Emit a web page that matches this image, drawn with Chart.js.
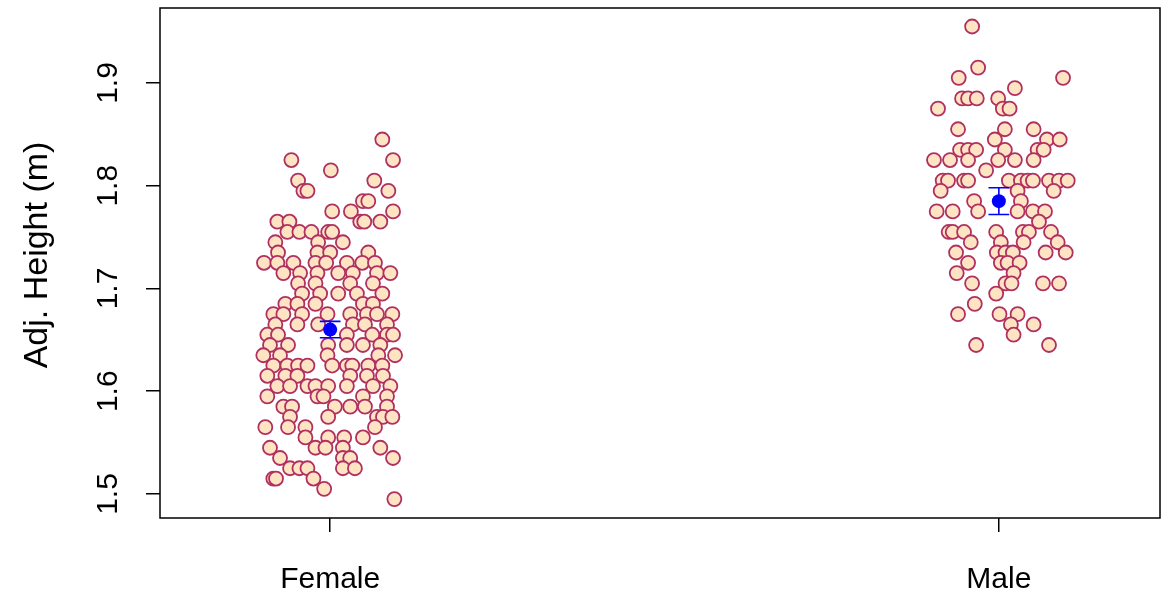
<!DOCTYPE html>
<html>
<head>
<meta charset="utf-8">
<script src="https://cdn.jsdelivr.net/npm/chart.js@4.4.1/dist/chart.umd.min.js"></script>
<style>
  html, body { margin: 0; padding: 0; background: #fff; }
  #wrap { width: 1161px; height: 590px; }
</style>
</head>
<body>
<div id="wrap"><canvas id="heightChart"></canvas></div>
<script>
// categories and ticks
const categories = ['Female', 'Male'];
const yTicks = [1.5, 1.6, 1.7, 1.8, 1.9];

// Female: adjusted heights (m) and their horizontal jitter
const femaleHeights = [
  1.845, 1.825, 1.825, 1.815, 1.805, 1.805,
  1.795, 1.795, 1.795, 1.785, 1.785, 1.775, 1.775, 1.775,
  1.765, 1.765, 1.765, 1.765, 1.765,
  1.755, 1.755, 1.755, 1.755, 1.755,
  1.745, 1.745, 1.745, 1.735, 1.735, 1.735, 1.735,
  1.725, 1.725, 1.725, 1.725, 1.725, 1.725, 1.725, 1.725,
  1.715, 1.715, 1.715, 1.715, 1.715, 1.715, 1.715,
  1.705, 1.705, 1.705, 1.705,
  1.695, 1.695, 1.695, 1.695, 1.695,
  1.685, 1.685, 1.685, 1.685, 1.685,
  1.675, 1.675, 1.675, 1.675, 1.675, 1.675, 1.675, 1.675,
  1.665, 1.665, 1.665, 1.665, 1.665, 1.665,
  1.655, 1.655, 1.655, 1.655, 1.655, 1.655,
  1.645, 1.645, 1.645, 1.645, 1.645, 1.645,
  1.635, 1.635, 1.635, 1.635, 1.635,
  1.625, 1.625, 1.625, 1.625, 1.625, 1.625, 1.625, 1.625, 1.625,
  1.615, 1.615, 1.615, 1.615, 1.615, 1.615,
  1.605, 1.605, 1.605, 1.605, 1.605, 1.605, 1.605, 1.605,
  1.595, 1.595, 1.595, 1.595, 1.595,
  1.585, 1.585, 1.585, 1.585, 1.585, 1.585,
  1.575, 1.575, 1.575, 1.575, 1.575,
  1.565, 1.565, 1.565, 1.565,
  1.555, 1.555, 1.555, 1.555,
  1.545, 1.545, 1.545, 1.545, 1.545,
  1.535, 1.535, 1.535, 1.535,
  1.525, 1.525, 1.525, 1.525, 1.525,
  1.515, 1.515, 1.515, 1.505, 1.495
];
const femaleJitter = [
  0.078, -0.058, 0.094, 0.001, -0.048, 0.066,
  -0.040, -0.034, 0.087, 0.049, 0.057, 0.003, 0.031, 0.094,
  -0.079, -0.061, 0.045, 0.051, 0.075,
  -0.064, -0.046, -0.028, -0.003, 0.003,
  -0.082, -0.018, 0.019, -0.078, -0.019, 0.000, 0.057,
  -0.099, -0.079, -0.055, -0.022, -0.006, 0.025, 0.048, 0.067,
  -0.070, -0.045, -0.019, 0.012, 0.034, 0.070, 0.090,
  -0.048, -0.022, 0.030, 0.064,
  -0.042, -0.015, 0.012, 0.040, 0.078,
  -0.067, -0.049, -0.022, 0.049, 0.064,
  -0.085, -0.070, -0.042, -0.004, 0.030, 0.055, 0.070, 0.093,
  -0.082, -0.049, -0.018, 0.034, 0.052, 0.085,
  -0.094, -0.078, 0.025, 0.063, 0.085, 0.094,
  -0.090, -0.063, -0.003, 0.025, 0.049, 0.075,
  -0.100, -0.075, -0.004, 0.072, 0.097,
  -0.085, -0.064, -0.048, -0.034, 0.003, 0.025, 0.033, 0.057, 0.078,
  -0.094, -0.067, -0.049, 0.030, 0.055, 0.079,
  -0.079, -0.060, -0.034, -0.022, -0.003, 0.025, 0.064, 0.090,
  -0.094, -0.019, -0.010, 0.049, 0.085,
  -0.070, -0.057, 0.007, 0.030, 0.052, 0.085,
  -0.060, -0.003, 0.070, 0.079, 0.093,
  -0.097, -0.063, -0.037, 0.067,
  -0.037, -0.003, 0.021, 0.049,
  -0.090, -0.022, -0.007, 0.019, 0.075,
  -0.075, 0.019, 0.030, 0.094,
  -0.060, -0.046, -0.034, 0.019, 0.037,
  -0.085, -0.081, -0.025, -0.009, 0.096
];

// Male: adjusted heights (m) and their horizontal jitter
const maleHeights = [
  1.955, 1.915, 1.905, 1.905, 1.895,
  1.885, 1.885, 1.885, 1.885, 1.875, 1.875, 1.875,
  1.855, 1.855, 1.855, 1.845, 1.845, 1.845,
  1.835, 1.835, 1.835, 1.835, 1.835, 1.835,
  1.825, 1.825, 1.825, 1.825, 1.825, 1.825, 1.815,
  1.805, 1.805, 1.805, 1.805, 1.805, 1.805, 1.805, 1.805, 1.805, 1.805, 1.805,
  1.795, 1.795, 1.795, 1.785, 1.785,
  1.775, 1.775, 1.775, 1.775, 1.775, 1.775, 1.765,
  1.755, 1.755, 1.755, 1.755, 1.755, 1.755, 1.755,
  1.745, 1.745, 1.745, 1.745,
  1.735, 1.735, 1.735, 1.735, 1.735, 1.735,
  1.725, 1.725, 1.725, 1.725, 1.715, 1.715,
  1.705, 1.705, 1.705, 1.705, 1.705,
  1.695, 1.685, 1.675, 1.675, 1.675,
  1.665, 1.665, 1.655, 1.645, 1.645
];
const maleJitter = [
  -0.040, -0.031, -0.060, 0.096, 0.024,
  -0.055, -0.046, -0.033, -0.001, -0.091, 0.006, 0.016,
  -0.061, 0.009, 0.052, -0.006, 0.072, 0.091,
  -0.058, -0.046, -0.034, 0.009, 0.058, 0.067,
  -0.097, -0.073, -0.046, -0.001, 0.024, 0.052, -0.019,
  -0.084, -0.076, -0.052, -0.046, 0.015, 0.033, 0.043, 0.051, 0.075, 0.090, 0.103,
  -0.087, 0.028, 0.082, -0.037, 0.033,
  -0.093, -0.069, -0.031, 0.028, 0.051, 0.069, 0.060,
  -0.075, -0.069, -0.052, -0.004, 0.036, 0.045, 0.078,
  -0.042, 0.003, 0.037, 0.088,
  -0.064, -0.003, 0.010, 0.021, 0.070, 0.100,
  -0.046, 0.003, 0.013, 0.031, -0.063, 0.022,
  -0.040, 0.010, 0.019, 0.066, 0.090,
  -0.004, -0.036, -0.061, 0.001, 0.028,
  0.018, 0.052, 0.022, -0.034, 0.075
];

// group means with standard error limits
const groupMeans = [1.660, 1.785];
const groupLower = [1.652, 1.772];
const groupUpper = [1.668, 1.798];

const FONT = '"Liberation Sans", Arial, Helvetica, sans-serif';
const capHalf = 0.0155; // half width of the error bar caps, in x units

function toPoints(heights, jitter, pos) {
  return heights.map((h, i) => ({ x: pos + jitter[i], y: h }));
}

const errorBarData = [];
groupMeans.forEach((m, i) => {
  const pos = i + 1;
  errorBarData.push(
    { x: pos, y: groupLower[i] }, { x: pos, y: groupUpper[i] }, { x: pos, y: null },
    { x: pos - capHalf, y: groupLower[i] }, { x: pos + capHalf, y: groupLower[i] }, { x: pos, y: null },
    { x: pos - capHalf, y: groupUpper[i] }, { x: pos + capHalf, y: groupUpper[i] }, { x: pos, y: null }
  );
});

const pointStyle = {
  backgroundColor: '#FFE4C4',
  borderColor: '#B03060',
  borderWidth: 1.8,
  pointRadius: 7,
  order: 3
};

// frame, rotated tick labels and axis title, drawn R style
const framePlugin = {
  id: 'frame',
  afterDraw(chart) {
    const { ctx, chartArea: a, scales: { x, y } } = chart;
    ctx.save();
    ctx.strokeStyle = '#000';
    ctx.lineWidth = 1.5;
    ctx.strokeRect(a.left, a.top, a.right - a.left, a.bottom - a.top);

    ctx.fillStyle = '#000';
    ctx.font = '30px ' + FONT;
    ctx.textAlign = 'center';
    ctx.textBaseline = 'alphabetic';

    yTicks.forEach(v => {
      ctx.save();
      ctx.translate(117, y.getPixelForValue(v));
      ctx.rotate(-Math.PI / 2);
      ctx.fillText(v.toFixed(1), 0, 0);
      ctx.restore();
    });

    categories.forEach((c, i) => {
      ctx.fillText(c, x.getPixelForValue(i + 1), 588);
    });

    ctx.font = '34px ' + FONT;
    ctx.save();
    ctx.translate(47, (a.top + a.bottom) / 2 - 8);
    ctx.rotate(-Math.PI / 2);
    ctx.fillText('Adj. Height (m)', 0, 0);
    ctx.restore();
    ctx.restore();
  }
};

const tickGrid = {
  display: true,
  drawOnChartArea: false,
  drawTicks: true,
  tickLength: 14,
  color: '#000',
  lineWidth: 1.5
};

new Chart(document.getElementById('heightChart'), {
  type: 'scatter',
  data: {
    datasets: [
      Object.assign({ label: categories[0], data: toPoints(femaleHeights, femaleJitter, 1) }, pointStyle),
      Object.assign({ label: categories[1], data: toPoints(maleHeights, maleJitter, 2) }, pointStyle),
      {
        label: 'SE',
        data: errorBarData,
        showLine: true,
        spanGaps: false,
        borderColor: '#0000FF',
        borderWidth: 1.6,
        pointRadius: 0,
        order: 2
      },
      {
        label: 'Mean',
        data: groupMeans.map((m, i) => ({ x: i + 1, y: m })),
        backgroundColor: '#0000FF',
        borderColor: '#0000FF',
        borderWidth: 0,
        pointRadius: 7,
        order: 1
      }
    ]
  },
  options: {
    responsive: true,
    maintainAspectRatio: false,
    animation: false,
    events: [],
    layout: { autoPadding: false, padding: { top: 8, right: 1, left: 0, bottom: 0 } },
    plugins: { legend: { display: false }, tooltip: { enabled: false } },
    scales: {
      x: {
        type: 'linear',
        min: 0.7455,
        max: 2.241,
        bounds: 'data',
        afterBuildTicks: s => { s.ticks = categories.map((c, i) => ({ value: i + 1 })); },
        afterFit: s => { s.height = 72; },
        ticks: { display: false },
        grid: tickGrid,
        border: { display: false }
      },
      y: {
        type: 'linear',
        min: 1.4766,
        max: 1.973,
        bounds: 'data',
        afterBuildTicks: s => { s.ticks = yTicks.map(v => ({ value: v })); },
        afterFit: s => { s.width = 160; },
        ticks: { display: false },
        grid: tickGrid,
        border: { display: false }
      }
    }
  },
  plugins: [framePlugin]
});
</script>
</body>
</html>
